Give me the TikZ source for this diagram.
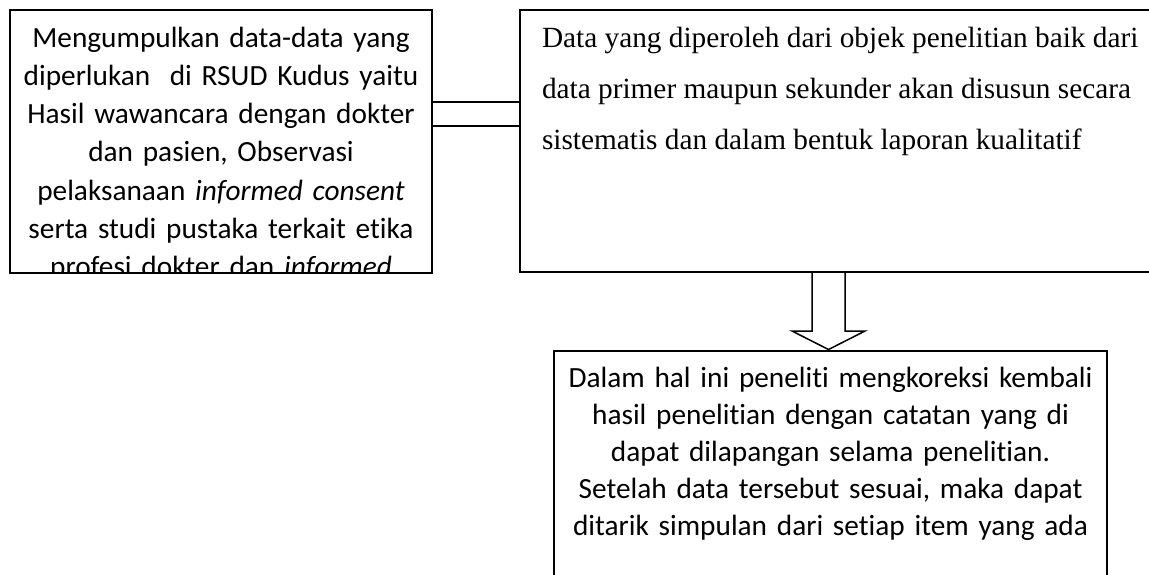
\documentclass[tikz,border=0pt]{standalone}
\usepackage{fontspec}
\newfontfamily\calfont{Carlito}[Ligatures=NoCommon]
\newfontfamily\tnrfont{Liberation Serif}
\begin{document}
\begin{tikzpicture}[x=1pt,y=-1pt,
  frame/.style={draw=black, line width=1.5pt, inner sep=0pt, outer sep=0pt},
  caltext/.style={inner sep=0pt, outer sep=0pt, align=center, font=\calfont\fontsize{29.3}{38.2}\selectfont},
  caltextb/.style={inner sep=0pt, outer sep=0pt, align=center, font=\calfont\fontsize{29.3}{37}\selectfont},
  tnrtext/.style={inner sep=0pt, outer sep=0pt, align=left, font=\tnrfont\fontsize{29.3}{51.2}\selectfont},
  link/.style={draw=black, line width=1.5pt}]
\clip (0,0) rectangle (1149,574);
\fill[white] (0,0) rectangle (1149,574);
% boxes
\node[frame, minimum width=422pt, minimum height=263pt] (box1) at (221,141.5) {};
\node[frame, minimum width=640pt, minimum height=262pt] (box2) at (840,141) {};
\node[frame, minimum width=553pt, minimum height=239pt] (box3) at (830.5,470.5) {};
% texts
\begin{scope}
\clip (box1.north west) rectangle (box1.south east);
\node[caltext, text width=422pt, anchor=north] (t1) at (221,20.6) {\strut Mengumpulkan data-data yang\\
diperlukan\ \ di RSUD Kudus yaitu\\
Hasil wawancara dengan dokter\\
dan pasien, Observasi\\
pelaksanaan \textit{informed consent}\\
serta studi pustaka terkait etika\\
profesi dokter dan \textit{informed}};
\end{scope}
\node[tnrtext, anchor=north west] (t2) at (542,11.2) {\strut Data yang diperoleh dari objek penelitian baik dari\\
data primer maupun sekunder akan disusun secara\\
sistematis dan dalam bentuk laporan kualitatif};
\node[caltextb, text width=553pt, anchor=north] (t3) at (830.5,361.1) {\strut Dalam hal ini peneliti mengkoreksi kembali\\
hasil penelitian dengan catatan yang di\\
dapat dilapangan selama penelitian.\\
Setelah data tersebut sesuai, maka dapat\\
ditarik simpulan dari setiap item yang ada};
% connector between box1 and box2
\coordinate (ua) at (0,102);
\coordinate (ub) at (0,126);
\draw[link] (box1.east |- ua) -- (box2.west |- ua);
\draw[link] (box1.east |- ub) -- (box2.west |- ub);
% block arrow from box2 to box3
\coordinate (tip) at (828.5,349.5);
\draw[link, line join=miter] (tip |- box2.south) ++(-16.5,0) -- ++(0,59) -- ++(-20,0) -- (tip) -- ++(36.5,-18.5) -- ++(-20,0) -- ++(0,-59);
\end{tikzpicture}
\end{document}
